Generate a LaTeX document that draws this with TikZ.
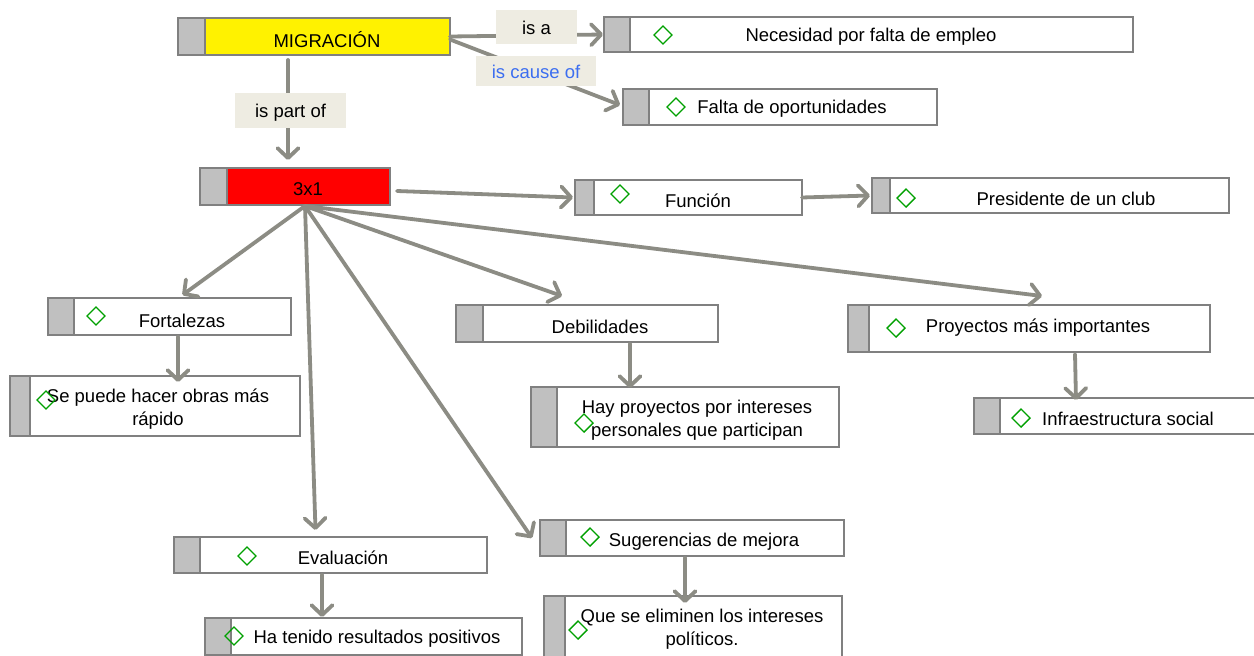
\documentclass[tikz,border=0pt]{standalone}
\usepackage{fontspec}
\setmainfont{Liberation Sans}
\usetikzlibrary{arrows.meta}
\definecolor{lineg}{RGB}{140,140,132}
\definecolor{boxborder}{RGB}{128,128,128}
\definecolor{tabgray}{RGB}{192,192,192}
\definecolor{lblbg}{RGB}{238,236,226}
\definecolor{causeblue}{RGB}{60,110,240}
\definecolor{diagreen}{RGB}{0,160,0}
\tikzset{
  cbox/.style={draw=boxborder, line width=1.3pt, rectangle, inner sep=0pt, outer sep=0pt},
  tabst/.style={draw=boxborder, line width=1.3pt, fill=tabgray},
  txt/.style={font=\fontsize{18.5}{23}\selectfont, align=center, inner sep=0pt, yshift=-2pt},
  lbl/.style={fill=lblbg, inner sep=0pt, font=\fontsize{18.5}{23}\selectfont,
    text height=16pt, text depth=2pt},
  conn/.style={draw=lineg, line width=3.8pt, line cap=round,
    -{Straight Barb[round,length=10pt,width=21pt]}},
  dia/.style={draw=diagreen, line width=1.4pt}
}
\newcommand\cmbox[7]{%
  \node[cbox, fill=#7, minimum width={(#4)-(#2)}, minimum height={(#5)-(#3)}]
    (#1) at ({((#2)+(#4))/2},{((#3)+(#5))/2}) {};
  \draw[tabst] (#1.north west) rectangle ([xshift=#6]#1.south west);
}
\newcommand\dmd[2]{\draw[dia] (#1,#2) +(-9,0) -- +(0,-9) -- +(9,0) -- +(0,9) -- cycle;}
\begin{document}
\begin{tikzpicture}[x=1pt,y=-1pt]
\useasboundingbox (0,0) rectangle (1254,656);
\fill[white] (0,0) rectangle (1254,656);

% boxes
\cmbox{mig}{178}{18}{450}{55}{27pt}{yellow}
\cmbox{x31}{200}{168}{390}{205}{27pt}{red}
\cmbox{nec}{604}{17}{1133}{52}{26pt}{white}
\cmbox{fal}{623}{89}{937}{125}{26pt}{white}
\cmbox{fun}{575}{180}{802}{215}{19pt}{white}
\cmbox{pre}{872}{178}{1229}{213}{18pt}{white}
\cmbox{fort}{48}{298}{291}{335}{26pt}{white}
\cmbox{sep}{10}{376}{300}{436}{20pt}{white}
\cmbox{deb}{456}{305}{718}{342}{27pt}{white}
\cmbox{hay}{531}{387}{839}{447}{26pt}{white}
\cmbox{proy}{848}{305}{1210}{352}{21pt}{white}
\cmbox{inf}{974}{398}{1258}{434}{26pt}{white}
\cmbox{eva}{174}{537}{487}{573}{26pt}{white}
\cmbox{ha}{205}{618}{522}{655}{26pt}{white}
\cmbox{sug}{540}{520}{844}{556}{26pt}{white}
\cmbox{que}{544}{596}{842}{662}{21pt}{white}

% texts
\node[txt] (mig-t) at (327,38) {MIGRACIÓN};
\node[txt] (x31-t) at (308,187) {3x1};
\node[txt] (nec-t) at (871,35) {Necesidad por falta de empleo};
\node[txt] (fal-t) at (792,107) {Falta de oportunidades};
\node[txt] (fun-t) at (698,199) {Función};
\node[txt] (pre-t) at (1066,197) {Presidente de un club};
\node[txt] (fort-t) at (182,319) {Fortalezas};
\node[txt] (sep-t) at (158,407) {Se puede hacer obras más\\rápido};
\node[txt] (deb-t) at (600,325) {Debilidades};
\node[txt] (hay-t) at (697,418) {Hay proyectos por intereses\\personales que participan};
\node[txt] (proy-t) at (1038,326) {Proyectos más importantes};
\node[txt] (inf-t) at (1128,417) {Infraestructura social};
\node[txt] (eva-t) at (343,556) {Evaluación};
\node[txt] (ha-t) at (377,637) {Ha tenido resultados positivos};
\node[txt] (sug-t) at (704,540) {Sugerencias de mejora};
\node[txt] (que-t) at (702,627) {Que se eliminen los intereses\\políticos.};

% diamonds
\dmd{663}{35}
\dmd{676}{107}
\dmd{620}{194}
\dmd{906}{198}
\dmd{96}{316}
\dmd{46}{400}
\dmd{584}{423}
\dmd{896}{328}
\dmd{1021}{418}
\dmd{247}{556}
\dmd{234}{636}
\dmd{590}{537}
\dmd{578}{630}

% connectors
\coordinate (hub) at ([xshift=10pt,yshift=-1pt]x31.south);
\draw[conn] (mig.east) -- ([xshift=-1pt]nec.west);
\draw[conn] ([yshift=-3pt]mig.east) -- ([xshift=-3pt,yshift=2pt]fal.west);
\draw[conn] ([xshift=-26pt,yshift=-5pt]mig.south) -- ([xshift=-7pt,yshift=8pt]x31.north);
\draw[conn] ([xshift=7pt,yshift=-4.5pt]x31.east) -- ([xshift=-2pt]fun.west);
\draw[conn] (fun.east) -- ([xshift=-2pt]pre.west);
\draw[conn] (hub) -- ([xshift=13pt,yshift=3pt]fort.north);
\draw[conn] (hub) -- ([xshift=-15pt,yshift=7pt]eva.north);
\draw[conn] (hub) -- ([xshift=-8pt]sug.west);
\draw[conn] (hub) -- ([xshift=-25pt,yshift=9pt]deb.north);
\draw[conn] (hub) -- ([xshift=13pt,yshift=9pt]proy.north);
\draw[conn] ([xshift=8.5pt,yshift=-2pt]fort.south) -- ([xshift=23pt,yshift=-6pt]sep.north);
\draw[conn] ([xshift=43pt,yshift=-2pt]deb.south) -- ([xshift=-55pt,yshift=-1pt]hay.north);
\draw[conn] ([xshift=46pt,yshift=-2pt]proy.south) -- ([xshift=-40pt,yshift=-2pt]inf.north);
\draw[conn] ([xshift=-8.5pt,yshift=-2pt]eva.south) -- ([xshift=-41.5pt,yshift=1pt]ha.north);
\draw[conn] ([xshift=-7pt,yshift=-2pt]sug.south) -- ([xshift=-8pt,yshift=-7pt]que.north);

% link labels
\node[lbl, minimum width=81pt, minimum height=34pt] (isa) at (536.5,27) {is a};
\node[lbl, minimum width=120pt, minimum height=30pt, text=causeblue] (cause) at (536,71) {is cause of};
\node[lbl, minimum width=111pt, minimum height=35pt] (part) at (290.5,110.5) {is part of};
\end{tikzpicture}
\end{document}
